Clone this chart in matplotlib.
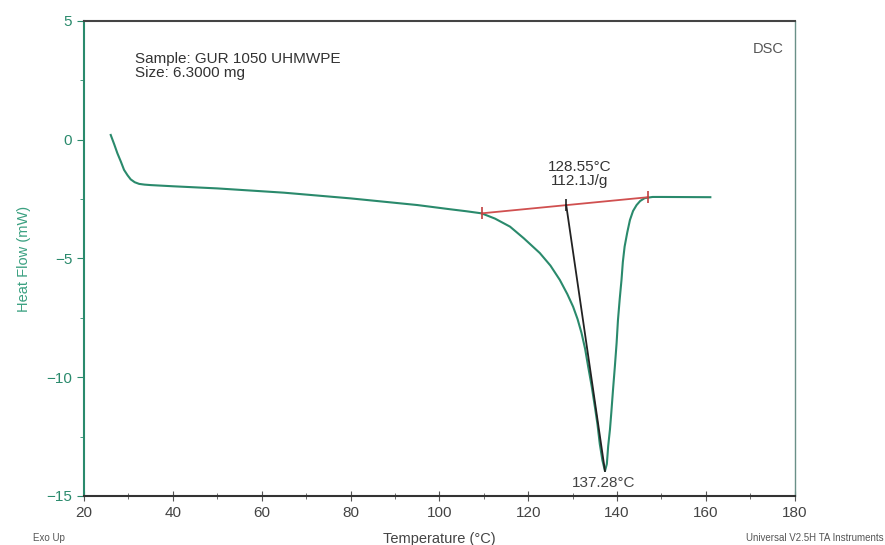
import matplotlib
matplotlib.use("Agg")
import matplotlib.pyplot as plt
from matplotlib.ticker import MultipleLocator

plt.rcParams['font.family'] = ['Liberation Sans', 'DejaVu Sans']

# DSC trace
temp = [26.0, 26.8, 27.5, 28.3, 29.0, 29.8, 30.5, 31.4, 32.4, 33.6, 35.0, 40.0, 50.0,
        65.0, 80.0, 95.0, 102.5, 106.0, 109.5, 112.5, 115.9, 119.0, 122.6, 125.0,
        127.1, 128.8, 130.1, 131.1, 132.0, 132.8, 133.5, 134.3, 135.0, 135.6, 136.1,
        136.7, 137.28, 137.7, 138.0, 138.4, 138.7, 139.1, 139.5, 139.9, 140.2, 140.6,
        141.0, 141.3, 141.7, 142.3, 142.9, 143.6, 144.4, 145.2, 146.2, 148.0, 150.0, 161.0]
heat = [0.2, -0.2, -0.57, -0.93, -1.27, -1.5, -1.67, -1.79, -1.86, -1.89, -1.91, -1.96, -2.05,
        -2.23, -2.47, -2.75, -2.93, -3.01, -3.1, -3.32, -3.66, -4.15, -4.77, -5.3,
        -5.9, -6.5, -7.03, -7.55, -8.14, -8.8, -9.56, -10.4, -11.24, -12.0, -12.8,
        -13.5, -13.95, -13.65, -12.9, -12.2, -11.5, -10.5, -9.56, -8.55, -7.6, -6.7,
        -5.9, -5.15, -4.5, -3.9, -3.38, -3.0, -2.75, -2.58, -2.46, -2.41, -2.41, -2.42]

# integration baseline and peak line
base_t = [109.5, 147.0]
base_h = [-3.1, -2.42]
onset_t = [128.55, 137.28]
onset_h = [-2.75, -13.95]

green = '#2a8a6c'
gray = '#555555'

fig = plt.figure(figsize=(8.85, 5.45), dpi=100)
ax = fig.add_axes([0.095, 0.09, 0.803, 0.8715])

ax.plot(temp, heat, color=green, lw=1.5)
ax.plot(base_t, base_h, color='#d05050', lw=1.3)
ax.plot(base_t, base_h, '|', color='#c04040', ms=9, mew=1.2)
ax.plot(onset_t, onset_h, color='#222222', lw=1.3)
ax.plot([onset_t[0]], [onset_h[0]], '|', color='#222222', ms=8, mew=1.2)

ax.set_xlim(20, 180)
ax.set_ylim(-15, 5)
ax.xaxis.set_major_locator(MultipleLocator(20))
ax.xaxis.set_minor_locator(MultipleLocator(10))
ax.yaxis.set_major_locator(MultipleLocator(5))
ax.yaxis.set_minor_locator(MultipleLocator(2.5))
ax.tick_params(axis='x', which='both', direction='inout', colors=gray,
               labelsize=11, labelcolor='#444444')
ax.tick_params(axis='x', which='major', length=7)
ax.tick_params(axis='x', which='minor', length=4)
ax.tick_params(axis='y', which='both', direction='out', colors=green,
               labelsize=11, labelcolor=green)
ax.tick_params(axis='y', which='major', length=5)
ax.tick_params(axis='y', which='minor', length=3)

ax.spines['left'].set_color(green)
ax.spines['left'].set_linewidth(1.5)
ax.spines['bottom'].set_color('#333333')
ax.spines['bottom'].set_linewidth(1.5)
ax.spines['top'].set_color('#444444')
ax.spines['top'].set_linewidth(1.5)
ax.spines['right'].set_color('#6a9088')
ax.spines['right'].set_linewidth(1.0)

ax.set_xlabel('Temperature (°C)', fontsize=10.5, color='#444444', labelpad=9)
ax.set_ylabel('Heat Flow (mW)', fontsize=10.5, color='#3aa080', labelpad=11)

ax.text(0.072, 0.935, 'Sample: GUR 1050 UHMWPE\nSize: 6.3000 mg', transform=ax.transAxes,
        fontsize=11, color='#333333', va='top', linespacing=1.05)
ax.text(0.985, 0.955, 'DSC', transform=ax.transAxes, fontsize=10.5, color='#555555',
        ha='right', va='top')
ax.text(131.5, -1.45, '128.55°C\n112.1J/g', fontsize=11, color='#333333',
        ha='center', va='center', linespacing=0.95)
ax.text(137.0, -14.15, '137.28°C', fontsize=11, color='#444444', ha='center', va='top')

fig.text(0.037, 0.004, 'Exo Up', fontsize=7, color='#555555', ha='left', va='bottom')
fig.text(0.998, 0.004, 'Universal V2.5H TA Instruments', fontsize=7, color='#555555',
         ha='right', va='bottom')

fig.savefig('out.png', dpi=100)
